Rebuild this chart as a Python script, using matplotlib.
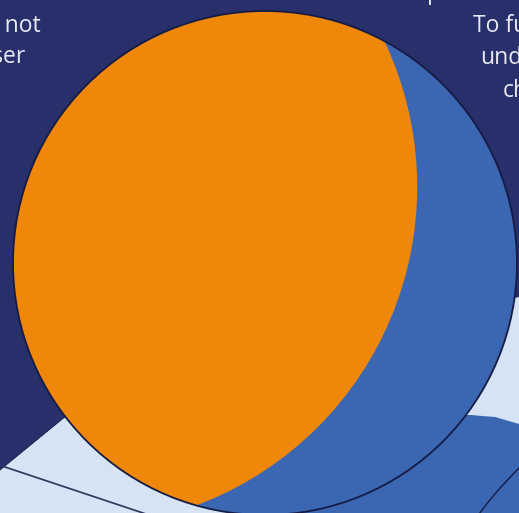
import numpy as np
import matplotlib
matplotlib.use("Agg")
import matplotlib.pyplot as plt
from matplotlib.patches import Circle, Polygon

# ---- data ----
categories = ["Orange share", "Blue share"]
values = [76, 24]
slice_colors = ["#ef870a", "#3b66b2"]

left_text = ["is not", "user"]
right_text = ["To fu", "und", "ch"]

NAVY = "#28306b"
LIGHT = "#d5e3f4"
EDGE = "#151b44"
TEXT = "#e8eaf3"

fig = plt.figure(figsize=(5.19, 5.13), dpi=100)
fig.patch.set_facecolor(NAVY)
ax = fig.add_axes([0, 0, 1, 1])
ax.set_xlim(0, 519)
ax.set_ylim(513, 0)
ax.set_aspect("equal")
ax.axis("off")
ax.set_facecolor(NAVY)

# ---- background decoration ----
ax.add_patch(Polygon([(0, 470), (66, 416), (265, 300), (265, 513), (0, 513)],
                     closed=True, facecolor=LIGHT, edgecolor="none", zorder=1))
ax.plot([0, 66], [470, 416], color=EDGE, lw=0.6, zorder=1.5)
ax.plot([2, 146], [466, 514], color="#2a3560", lw=1.2, zorder=1.5)

ax.add_patch(Polygon([(519, 297), (420, 320), (420, 420), (470, 415), (519, 425)],
                     closed=True, facecolor=LIGHT, edgecolor="none", zorder=1))
ax.add_patch(Polygon([(470, 415), (495, 417), (519, 424), (519, 513), (250, 513), (330, 420)],
                     closed=True, facecolor=slice_colors[1], edgecolor="none", zorder=1))
t = np.linspace(0, 1, 30)
ax.plot(519 - 40 * t - 1.5 * np.sin(np.pi * t), 468 + 46 * t, color=EDGE, lw=1.0, zorder=1.5)

# ---- pie (two shares) ----
cx, cy, R = 265.0, 263.0, 252.0
r_o = 1.35 * R
direction = np.array([-185.0, -75.0])
direction /= np.linalg.norm(direction)

frac = values[0] / sum(values)


def lens_area(d, R1, R2):
    a1 = np.arccos(np.clip((d**2 + R2**2 - R1**2) / (2 * d * R2), -1, 1))
    a2 = np.arccos(np.clip((d**2 + R1**2 - R2**2) / (2 * d * R1), -1, 1))
    k = (-d + R1 + R2) * (d + R1 - R2) * (d - R1 + R2) * (d + R1 + R2)
    return R2**2 * a1 + R1**2 * a2 - 0.5 * np.sqrt(max(k, 0))


target = frac * np.pi * R**2
lo, hi = r_o - R + 1e-6, r_o + R - 1e-6
for _ in range(80):
    mid = 0.5 * (lo + hi)
    if lens_area(mid, R, r_o) > target:
        lo = mid
    else:
        hi = mid
d = 0.5 * (lo + hi)
ox, oy = np.array([cx, cy]) + direction * d

base = Circle((cx, cy), R, facecolor=slice_colors[1], edgecolor="none", zorder=2)
ax.add_patch(base)
orange = Circle((ox, oy), r_o, facecolor=slice_colors[0], edgecolor="none", zorder=3)
ax.add_patch(orange)
orange.set_clip_path(base)
ax.add_patch(Circle((cx, cy), R, facecolor="none", edgecolor=EDGE, lw=1.3, zorder=4))

# ---- text fragments ----
fam = ["Open Sans", "DejaVu Sans"]
fs = 16.5
ax.text(41, 32, left_text[0], ha="right", va="baseline", color=TEXT, fontsize=fs, family=fam, zorder=5)
ax.text(25, 63, left_text[1], ha="right", va="baseline", color=TEXT, fontsize=fs, family=fam, zorder=5)
ax.text(473, 32, right_text[0], ha="left", va="baseline", color=TEXT, fontsize=fs, family=fam, zorder=5)
ax.text(480, 64, right_text[1], ha="left", va="baseline", color=TEXT, fontsize=fs, family=fam, zorder=5)
ax.text(503, 97, right_text[2], ha="left", va="baseline", color=TEXT, fontsize=fs, family=fam, zorder=5)
ax.text(427, -1, "p", ha="left", va="baseline", color=TEXT, fontsize=fs, family=fam, zorder=5)

fig.savefig("out.png", dpi=100, facecolor=NAVY)
